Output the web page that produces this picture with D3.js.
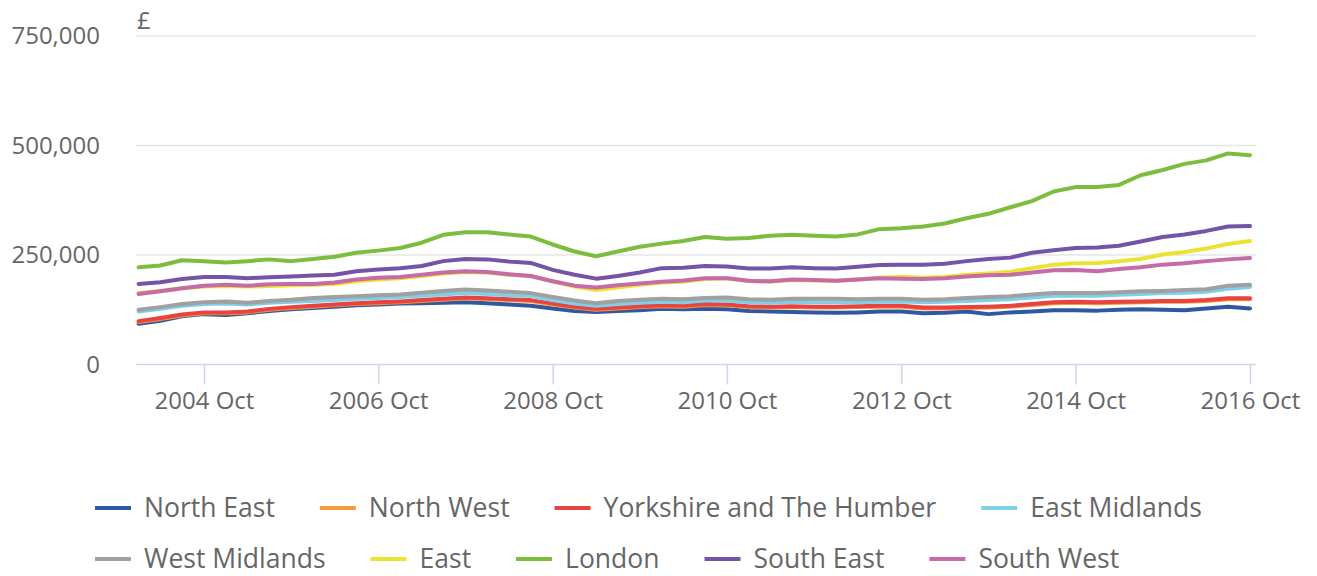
<!DOCTYPE html>
<html>
<head>
<meta charset="utf-8">
<script src="https://cdn.jsdelivr.net/npm/d3@7"></script>
<style>
  body { margin: 0; background: #fff; font-family: "Open Sans", sans-serif; }
</style>
</head>
<body>
<div id="chart"></div>
<script>
// quarterly readings, Jan 2004 .. Oct 2016, £ thousands
const quarters = d3.timeMonth.range(new Date(2004, 0, 1), new Date(2016, 10, 1), 3);

const northEast = [93,100,110,115, 113,117,122,126, 129,132,135,137, 139,140,141,142, 140,137,134,128, 122,120,122,124, 127,126,127,126, 122,121,120,119, 118,119,121,121, 117,118,121,115, 119,121,124,124, 123,125,126,125, 124,128,132,128];
const northWest = [97,104,112,117, 117,119,125,129, 132,135,138,140, 142,145,148,151, 149,147,145,137, 130,125,128,131, 133,132,136,135, 131,130,131,130, 130,131,132,132, 128,128,129,130, 132,136,140,141, 140,141,142,143, 143,145,149,149];
const yorkshire = [99,106,114,119, 119,121,127,131, 134,137,140,142, 144,147,150,153, 151,149,147,139, 132,127,130,133, 135,134,138,137, 133,132,133,132, 132,133,134,134, 130,130,131,132, 134,138,142,143, 142,143,144,145, 145,147,151,151];
const eastMidlands = [121,127,134,138, 139,137,141,143, 145,147,150,152, 154,157,160,163, 161,158,157,147, 139,134,138,141, 143,142,146,146, 142,141,143,142, 142,142,143,144, 142,143,145,147, 149,153,157,157, 157,159,161,163, 164,166,173,177];
const westMidlands = [125,131,138,142, 144,141,145,148, 152,154,156,158, 160,164,168,171, 169,166,163,154, 146,140,145,148, 150,149,152,153, 149,148,150,150, 150,149,150,150, 148,149,152,154, 156,160,163,163, 163,165,167,168, 170,172,180,182];
const east = [163,168,174,178, 179,178,179,181, 182,184,190,194, 197,202,208,211, 210,205,202,190, 178,170,176,182, 187,189,195,197, 190,189,193,192, 191,194,198,200, 198,200,205,208, 212,220,228,231, 232,236,241,251, 257,265,275,282];
const london = [222,226,238,236, 233,236,240,236, 241,246,255,260, 266,278,296,302, 302,297,292,274, 258,247,258,269, 276,282,291,287, 289,294,296,294, 292,297,309,311, 315,322,334,344, 359,373,395,405, 405,410,432,444, 458,466,482,478];
const southEast = [184,188,195,200, 200,197,199,201, 203,205,213,217, 220,225,236,241, 240,235,232,216, 205,196,202,210, 220,221,225,224, 219,219,222,220, 219,223,227,228, 228,230,236,241, 244,255,261,266, 267,271,281,291, 297,305,315,316];
const southWest = [161,167,174,180, 182,180,183,184, 184,187,194,198, 200,205,210,213, 211,206,202,190, 180,176,181,185, 189,192,197,197, 191,190,194,193, 191,194,197,196, 195,197,201,204, 205,210,215,216, 213,218,222,228, 231,236,240,243];

const regions = ["North East", "North West", "Yorkshire and The Humber", "East Midlands",
  "West Midlands", "East", "London", "South East", "South West"];
const colors = ["#2f58a4", "#f7993c", "#e8433f", "#7fcfe9", "#a0a0a0", "#ebe331", "#7dbd3d", "#7553a6", "#c66aa8"];
const seriesValues = [northEast, northWest, yorkshire, eastMidlands, westMidlands, east, london, southEast, southWest];

const yTicks = [0, 250000, 500000, 750000];
const xTicks = ["2004-10", "2006-10", "2008-10", "2010-10", "2012-10", "2014-10", "2016-10"];

const width = 1317, height = 576;
const plotLeft = 136, plotRight = 1256;

const svg = d3.select("#chart").append("svg")
  .attr("width", width)
  .attr("height", height);

const parseMonth = d3.timeParse("%Y-%m");
const xScale = d3.scaleTime()
  .domain([parseMonth("2004-10"), parseMonth("2016-10")])
  .range([204, 1250]);
const yScale = d3.scaleLinear().domain([0, 750000]).range([364.5, 36]);

// gridlines
svg.append("g")
  .selectAll("line")
  .data(yTicks.filter(d => d > 0))
  .enter()
  .append("line")
  .attr("x1", plotLeft)
  .attr("x2", plotRight)
  .attr("y1", d => yScale(d))
  .attr("y2", d => yScale(d))
  .attr("stroke", "#e6e6e6")
  .attr("stroke-width", 1.5);

// y axis labels
const yAxis = svg.append("g")
  .attr("transform", "translate(100,0)")
  .call(d3.axisLeft(yScale).tickValues(yTicks).tickSize(0).tickPadding(0).tickFormat(d3.format(",")));
yAxis.select(".domain").remove();
yAxis.selectAll("text")
  .attr("fill", "#666")
  .style("font-family", "Open Sans")
  .style("font-size", "24px");

svg.append("text")
  .attr("x", 137)
  .attr("y", 29)
  .attr("fill", "#666")
  .style("font-size", "24px")
  .text("£");

// x axis
svg.append("line")
  .attr("x1", plotLeft)
  .attr("x2", plotRight)
  .attr("y1", yScale(0))
  .attr("y2", yScale(0))
  .attr("stroke", "#ccd6eb")
  .attr("stroke-width", 1.5);

const xAxis = svg.append("g")
  .attr("transform", `translate(0,${yScale(0)})`)
  .call(d3.axisBottom(xScale)
    .tickValues(xTicks.map(parseMonth))
    .tickSize(20)
    .tickPadding(7)
    .tickFormat(d3.timeFormat("%Y %b")));
xAxis.select(".domain").remove();
xAxis.selectAll("line").attr("stroke", "#ccd6eb").attr("stroke-width", 1.5);
xAxis.selectAll("text")
  .attr("fill", "#666")
  .style("font-family", "Open Sans")
  .style("font-size", "24px");

// lines
const line = d3.line()
  .x((d, i) => xScale(quarters[i]))
  .y(d => yScale(d * 1000));

seriesValues.forEach((values, i) => {
  svg.append("path")
    .datum(values)
    .attr("fill", "none")
    .attr("stroke", colors[i])
    .attr("stroke-width", 4)
    .attr("stroke-linejoin", "round")
    .attr("stroke-linecap", "round")
    .attr("d", line);
});

// legend, left aligned, wraps like the original
const legend = svg.append("g");
const rowY = [508, 559];
let lx = 95, row = 0;
regions.forEach((name, i) => {
  const item = legend.append("g");
  item.append("line")
    .attr("x1", 0).attr("x2", 36)
    .attr("y1", 0).attr("y2", 0)
    .attr("stroke", colors[i])
    .attr("stroke-width", 4);
  const t = item.append("text")
    .attr("x", 49)
    .attr("y", 9)
    .attr("fill", "#666")
    .style("font-size", "26.5px")
    .text(name);
  const w = 49 + t.node().getComputedTextLength();
  if (lx + w > 1260) { row += 1; lx = 95; }
  item.attr("transform", `translate(${lx},${rowY[row]})`);
  lx += w + 45;
});
</script>
</body>
</html>
